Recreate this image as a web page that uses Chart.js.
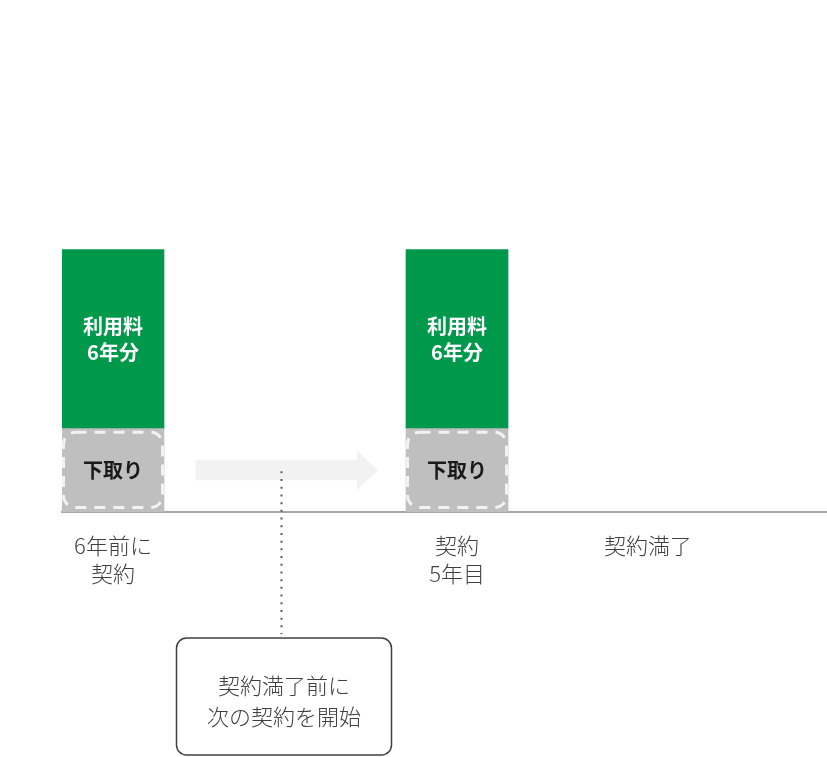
<!DOCTYPE html>
<html lang="ja">
<head>
<meta charset="utf-8">
<script src="https://cdn.jsdelivr.net/npm/chart.js@4.4.1/dist/chart.umd.min.js"></script>
<style>
    html, body { margin: 0; padding: 0; background: #fff; }
    #wrap { width: 827px; height: 757px; }
</style>
</head>
<body>
<div id="wrap"><canvas id="planChart"></canvas></div>
<script>
// 軸ラベル（位置は x 軸上の値）
const tickPositions = [0, 2, 3.11];
const tickLabels = [['6年前に', '契約'], ['契約', '5年目'], '契約満了'];

// 棒の位置と値
const barPositions = [0, 2];
const tradeInValues = [20, 20];
const feeValues = [43, 43];
const tradeInLabel = '下取り';
const feeLabel = ['利用料', '6年分'];

// 矢印と吹き出し
const arrowRange = [0.48, 1.54];
const arrowLevel = 10;
const noteX = 0.975;
const noteText = ['契約満了前に', '次の契約を開始'];

const FONT = "'Noto Sans CJK JP', 'Noto Sans', sans-serif";

const decorPlugin = {
    id: 'decor',
    beforeDatasetsDraw(chart) {
        const { ctx, scales: { x, y } } = chart;
        const x0 = x.getPixelForValue(arrowRange[0]);
        const x1 = x.getPixelForValue(arrowRange[1]);
        const cy = y.getPixelForValue(arrowLevel);
        const headLen = 21, bodyHalf = 10, headHalf = 20;
        ctx.save();
        ctx.fillStyle = '#F2F2F2';
        ctx.beginPath();
        ctx.moveTo(x0, cy - bodyHalf);
        ctx.lineTo(x1 - headLen, cy - bodyHalf);
        ctx.lineTo(x1 - headLen, cy - headHalf);
        ctx.lineTo(x1, cy);
        ctx.lineTo(x1 - headLen, cy + headHalf);
        ctx.lineTo(x1 - headLen, cy + bodyHalf);
        ctx.lineTo(x0, cy + bodyHalf);
        ctx.closePath();
        ctx.fill();
        ctx.restore();
    },
    afterDatasetsDraw(chart) {
        const { ctx, scales: { x, y }, chartArea } = chart;
        ctx.save();
        ctx.textAlign = 'center';
        ctx.textBaseline = 'middle';

        // 下取り部分：点線の角丸枠と文字
        chart.getDatasetMeta(0).data.forEach(bar => {
            const { x: bx, y: top, base, width } = bar.getProps(['x', 'y', 'base', 'width'], true);
            const left = bx - width / 2;
            ctx.setLineDash([11, 8]);
            ctx.lineWidth = 3;
            ctx.strokeStyle = '#F2F2F2';
            ctx.beginPath();
            ctx.roundRect(left + 1.5, top + 3.5, width - 3, base - top - 8, 12);
            ctx.stroke();
            ctx.setLineDash([]);
            ctx.fillStyle = '#1A1A1A';
            ctx.font = `bold 20px ${FONT}`;
            ctx.fillText(tradeInLabel, bx, (top + base) / 2);
        });

        // 利用料部分の文字
        chart.getDatasetMeta(1).data.forEach(bar => {
            const { x: bx, y: top, base } = bar.getProps(['x', 'y', 'base'], true);
            const mid = (top + base) / 2;
            ctx.fillStyle = '#FFFFFF';
            ctx.font = `bold 20px ${FONT}`;
            feeLabel.forEach((t, i) => ctx.fillText(t, bx, mid + (i - 0.5) * 26));
        });

        // 点線と吹き出し
        const nx = Math.round(x.getPixelForValue(noteX)) + 0.5;
        const boxTop = chartArea.bottom + 126;
        const boxW = 215, boxH = 117;
        ctx.strokeStyle = '#595959';
        ctx.lineWidth = 2;
        ctx.setLineDash([2, 5.7]);
        ctx.beginPath();
        ctx.moveTo(nx, y.getPixelForValue(arrowLevel) + 1);
        ctx.lineTo(nx, boxTop - 4);
        ctx.stroke();
        ctx.setLineDash([]);

        ctx.strokeStyle = '#404040';
        ctx.lineWidth = 1.5;
        ctx.beginPath();
        ctx.roundRect(nx - boxW / 2 + 2.5, boxTop, boxW, boxH, 10);
        ctx.stroke();
        ctx.fillStyle = '#404040';
        ctx.font = `300 22px ${FONT}`;
        noteText.forEach((t, i) => ctx.fillText(t, nx + 2.5, boxTop + 48 + i * 31));
        ctx.restore();
    }
};

const chart = new Chart(document.getElementById('planChart'), {
    type: 'bar',
    data: {
        datasets: [{
            label: tradeInLabel,
            data: barPositions.map((p, i) => ({ x: p, y: tradeInValues[i] })),
            backgroundColor: '#BFBFBF',
            borderWidth: 0,
            barThickness: 102
        }, {
            label: feeLabel.join(''),
            data: barPositions.map((p, i) => ({ x: p, y: feeValues[i] })),
            backgroundColor: '#00994C',
            borderWidth: 0,
            barThickness: 102
        }]
    },
    options: {
        responsive: true,
        maintainAspectRatio: false,
        animation: false,
        layout: { padding: { top: 12, left: 62, right: 0, bottom: 0 } },
        plugins: {
            legend: { display: false },
            tooltip: { enabled: false }
        },
        scales: {
            x: {
                type: 'linear',
                stacked: true,
                offset: false,
                min: -0.2965,
                max: 4.151,
                grid: { display: false, drawTicks: false },
                border: { display: true, color: '#A6A6A6', width: 2 },
                afterBuildTicks: s => { s.ticks = tickPositions.map(v => ({ value: v })); },
                afterFit: s => { s.height = 245; },
                ticks: {
                    autoSkip: false,
                    maxRotation: 0,
                    padding: 20,
                    color: '#404040',
                    font: { family: FONT, size: 22, weight: 300, lineHeight: 1.27 },
                    callback: v => tickLabels[tickPositions.indexOf(v)]
                }
            },
            y: {
                display: false,
                stacked: true,
                min: 0,
                max: 120
            }
        }
    },
    plugins: [decorPlugin]
});
</script>
</body>
</html>
